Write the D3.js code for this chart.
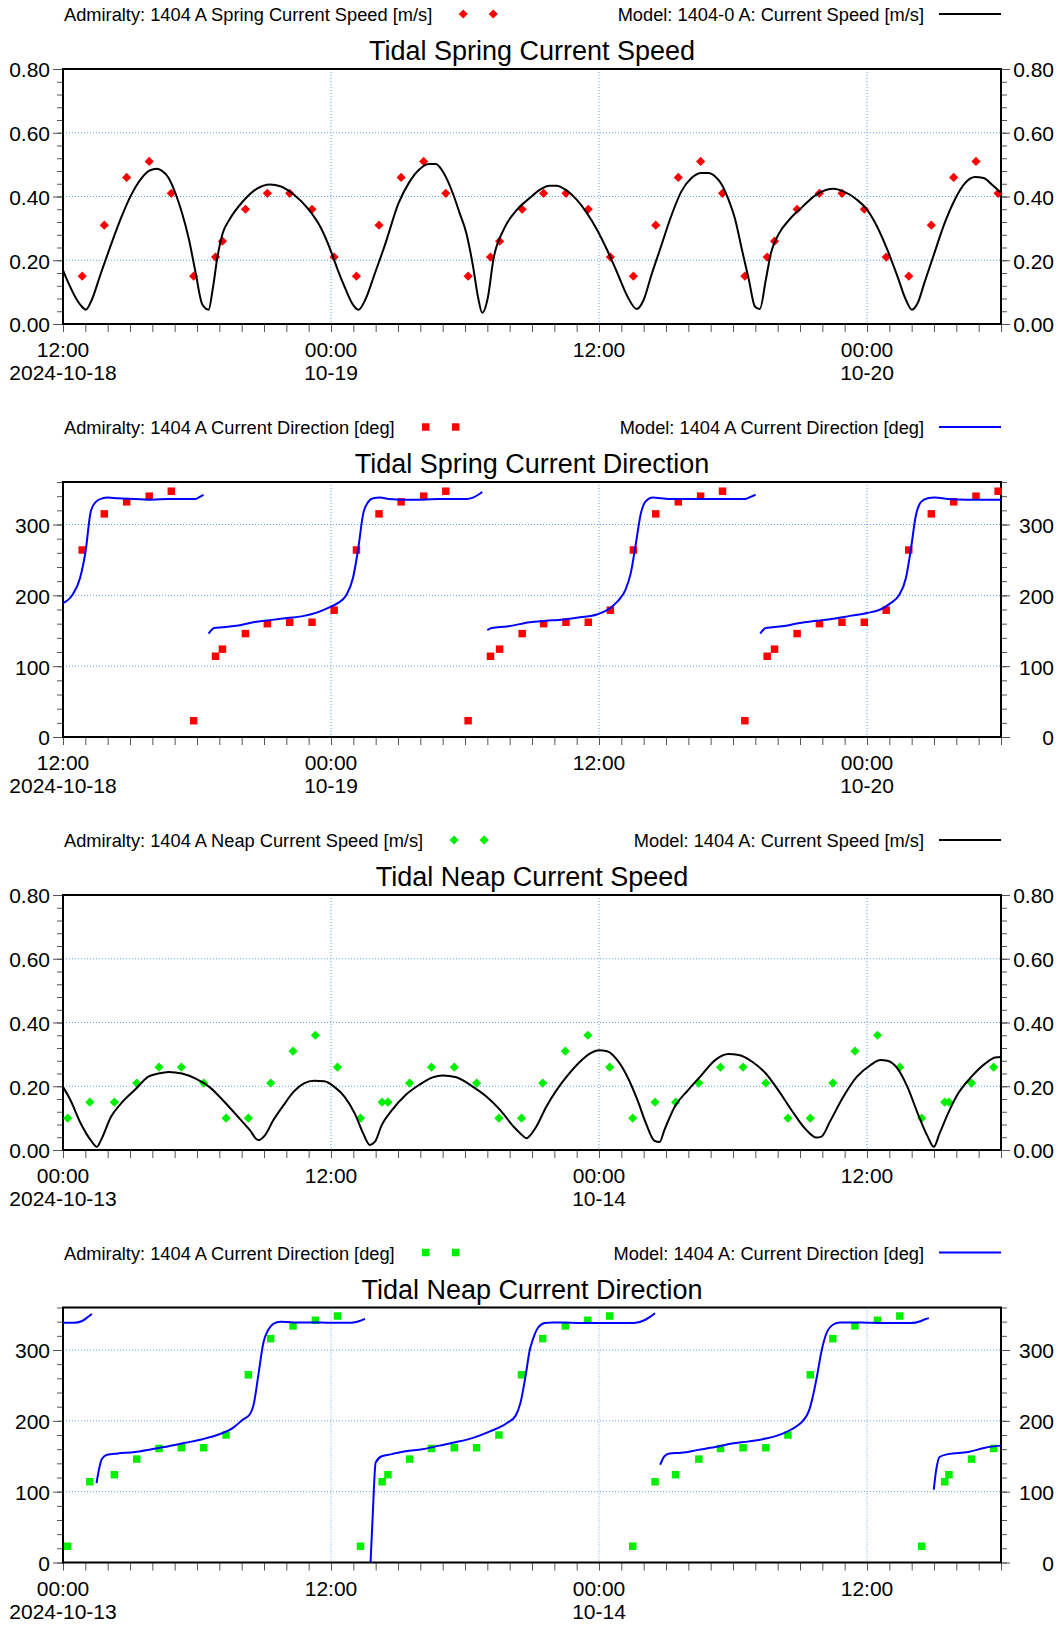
<!DOCTYPE html>
<html>
<head>
<meta charset="utf-8">
<script src="https://cdn.jsdelivr.net/npm/d3@7"></script>
<style>
  html, body { margin: 0; padding: 0; background: #fff; }
  svg { display: block; font-family: "Liberation Sans", Arial, sans-serif; }
</style>
</head>
<body>
<svg id="chart" width="1058" height="1625"></svg>
<script>
// ---- data (hours counted from the start of each panel) ----
const springStart = "2024-10-18T12:00:00Z";
const neapStart = "2024-10-13T00:00:00Z";
const spanHours = 42;

const speedTicks = [0, 0.2, 0.4, 0.6, 0.8];
const dirTicks = [0, 100, 200, 300];

const springObsHours = [0.86, 1.85, 2.85, 3.86, 4.85, 5.85, 6.83, 7.14, 8.17, 9.15, 10.15, 11.15, 12.14,
  13.14, 14.15, 15.14, 16.15, 17.14, 18.14, 19.14, 19.55, 20.56, 21.52, 22.52, 23.52, 24.51, 25.54,
  26.54, 27.55, 28.55, 29.53, 30.53, 31.53, 31.86, 32.87, 33.87, 34.88, 35.88, 36.86, 37.87, 38.88,
  39.88, 40.88, 41.87];
const springObsSpeed = [0.15, 0.31, 0.46, 0.51, 0.41, 0.15, 0.21, 0.26, 0.36, 0.41, 0.41, 0.36, 0.21,
  0.15, 0.31, 0.46, 0.51, 0.41, 0.15, 0.21, 0.26, 0.36, 0.41, 0.41, 0.36, 0.21, 0.15,
  0.31, 0.46, 0.51, 0.41, 0.15, 0.21, 0.26, 0.36, 0.41, 0.41, 0.36, 0.21, 0.15, 0.31,
  0.46, 0.51, 0.41];
const springObsDir = [264, 315, 332, 340, 347, 23, 114, 124, 146, 160, 162, 162, 179,
  264, 315, 332, 340, 347, 23, 114, 124, 146, 160, 162, 162, 179, 264,
  315, 332, 340, 347, 23, 114, 124, 146, 160, 162, 162, 179, 264, 315,
  332, 340, 347];

const springModelHours = [0, 0.79, 1.03, 1.24, 1.7, 2.15, 2.6, 3.06, 3.52, 3.89, 4.2, 4.42, 4.73, 5.03,
  5.33, 5.64, 5.94, 6.24, 6.52, 6.7, 6.92, 7.15, 7.45, 8.06, 8.67, 9.27, 9.73, 10.33, 10.94, 11.55,
  12, 12.3, 12.6, 12.98, 13.24, 13.5, 13.97, 14.42, 15.03, 15.48, 15.94, 16.39, 16.7, 17, 17.45,
  17.76, 18.06, 18.36, 18.59, 18.77, 19.02, 19.27, 19.73, 20.33, 20.9, 21.34, 21.79, 22.1, 22.55,
  23, 23.46, 23.91, 24.36, 24.82, 25.27, 25.69, 26, 26.33, 26.78, 27.23, 27.69, 28.14, 28.59, 28.9,
  29.2, 29.5, 29.8, 30.1, 30.4, 30.71, 30.98, 31.2, 31.47, 31.7, 32.07, 32.52, 33.13, 33.73, 34.19,
  34.49, 34.94, 35.55, 36, 36.45, 36.91, 37.36, 37.74, 38.01, 38.27, 38.57, 39.02, 39.48, 39.93,
  40.39, 40.84, 41.22, 41.6, 42];
const springModelSpeed = [0.168, 0.059, 0.045, 0.068, 0.16, 0.249, 0.333, 0.406, 0.458, 0.482, 0.487,
  0.481, 0.458, 0.411, 0.348, 0.265, 0.16, 0.061, 0.045, 0.108, 0.212, 0.285, 0.327, 0.385, 0.424,
  0.438, 0.432, 0.406, 0.364, 0.301, 0.228, 0.17, 0.118, 0.061, 0.045, 0.071, 0.16, 0.249, 0.38,
  0.442, 0.484, 0.502, 0.502, 0.479, 0.411, 0.348, 0.285, 0.181, 0.082, 0.035, 0.082, 0.202, 0.296,
  0.359, 0.395, 0.421, 0.434, 0.434, 0.419, 0.39, 0.348, 0.296, 0.233, 0.16, 0.087, 0.047, 0.076,
  0.15, 0.244, 0.338, 0.416, 0.458, 0.474, 0.474, 0.463, 0.437, 0.39, 0.327, 0.233, 0.139, 0.055,
  0.047, 0.139, 0.223, 0.285, 0.327, 0.369, 0.406, 0.421, 0.424, 0.416, 0.39, 0.359, 0.306, 0.233,
  0.15, 0.076, 0.045, 0.066, 0.129, 0.223, 0.317, 0.39, 0.442, 0.461, 0.458, 0.437, 0.411];

// null marks a break in the model direction line (wrap-around at 360)
const springModelDirHours = [0, 0.41, 0.76, 1.02, 1.24, 1.47, 1.77, 2, 2.45, 3.21, 3.97, 4.73, 5.48,
  5.94, 6.12, 6.29, null,
  6.52, 6.77, 7.15, 7.76, 8.52, 9.27, 10.03, 10.79, 11.39, 11.85, 12.3, 12.68, 12.98, 13.21, 13.44,
  13.67, 13.89, 14.2, 14.58, 15.33, 16.09, 16.85, 18.06, 18.36, 18.59, 18.77, null,
  19, 19.2, 19.88, 20.9, 21.64, 22.4, 23.15, 23.91, 24.36, 24.82, 25.19, 25.42, 25.65, 25.87, 26.1,
  26.4, 26.78, 27.08, 27.69, 28.44, 29.2, 29.95, 30.56, 30.79, 31.01, null,
  31.22, 31.47, 31.77, 32.37, 32.98, 33.73, 34.49, 35.24, 36, 36.6, 37.06, 37.43, 37.74, 37.96,
  38.19, 38.42, 38.72, 39.02, 39.63, 40.53, 42];
const springModelDir = [189, 200, 224, 264, 318, 332, 337, 338, 337, 336, 335, 336, 336,
  336, 339, 342, null,
  146, 154, 155, 157, 162, 165, 168, 171, 176, 182, 189, 200, 224, 264, 315,
  332, 337, 338, 336, 335, 335, 336, 336, 338, 342, 346, null,
  151, 154, 156, 162, 164, 166, 169, 173, 179, 191, 208, 231, 273, 315, 333,
  338, 337, 336, 336, 336, 336, 336, 336, 339, 342, null,
  146, 154, 155, 157, 161, 164, 167, 171, 175, 180, 189, 200, 224, 264,
  313, 332, 337, 338, 336, 335, 335];

const neapObsHours = [0.21, 1.2, 2.3, 3.3, 4.3, 5.3, 6.3, 7.3, 8.3, 9.3, 10.3, 11.3, 12.29, 13.32,
  14.29, 14.55, 15.52, 16.5, 17.52, 18.52, 19.52, 20.53, 21.48, 22.49, 23.5, 24.48, 25.51,
  26.51, 27.43, 28.47, 29.44, 30.45, 31.47, 32.46, 33.46, 34.47, 35.46, 36.47, 37.47, 38.45,
  39.48, 39.67, 40.68, 41.67];
const neapObsSpeed = [0.10, 0.15, 0.15, 0.21, 0.26, 0.26, 0.21, 0.10, 0.10, 0.21, 0.31, 0.36, 0.26, 0.10,
  0.15, 0.15, 0.21, 0.26, 0.26, 0.21, 0.10, 0.10, 0.21, 0.31, 0.36, 0.26, 0.10,
  0.15, 0.15, 0.21, 0.26, 0.26, 0.21, 0.10, 0.10, 0.21, 0.31, 0.36, 0.26, 0.10,
  0.15, 0.15, 0.21, 0.26];
const neapObsDir = [23, 114, 124, 146, 161, 162, 162, 180, 265, 316, 334, 342, 348, 23,
  114, 124, 146, 161, 162, 162, 180, 265, 316, 334, 342, 348, 23,
  114, 124, 146, 161, 162, 162, 180, 265, 316, 334, 342, 348, 23,
  114, 124, 146, 161];

const neapModelHours = [0, 0.33, 0.79, 1.24, 1.52, 1.7, 2.15, 2.6, 3.21, 3.82, 4.27, 4.73, 5.33, 5.94,
  6.55, 7.15, 7.76, 8.36, 8.74, 9.05, 9.42, 9.88, 10.33, 10.79, 11.24, 11.7, 12.15, 12.61, 13.06,
  13.44, 13.74, 13.97, 14.27, 14.73, 15.33, 15.94, 16.55, 17, 17.61, 18.36, 18.97, 19.58, 20.18,
  20.48, 20.76, 20.89, 21.19, 21.64, 22.1, 22.55, 23.15, 23.61, 24, 24.36, 24.82, 25.27, 25.72,
  26.1, 26.48, 26.71, 26.93, 27.39, 27.99, 28.59, 29.2, 29.8, 30.26, 30.86, 31.47, 32.07, 32.67,
  33.28, 33.73, 33.96, 34.34, 34.94, 35.55, 36.15, 36.6, 36.91, 37.36, 37.81, 38.27, 38.72, 38.99,
  39.25, 39.63, 40.08, 40.68, 41.29, 41.74, 42];
const neapModelSpeed = [0.198, 0.157, 0.084, 0.031, 0.01, 0.031, 0.104, 0.146, 0.188, 0.23, 0.24,
  0.245, 0.24, 0.224, 0.198, 0.157, 0.11, 0.063, 0.031, 0.047, 0.094, 0.141, 0.183, 0.209, 0.217,
  0.216, 0.198, 0.167, 0.115, 0.052, 0.016, 0.026, 0.078, 0.125, 0.172, 0.204, 0.228, 0.234, 0.228,
  0.198, 0.167, 0.125, 0.073, 0.052, 0.037, 0.044, 0.073, 0.136, 0.188, 0.23, 0.277, 0.303, 0.313,
  0.31, 0.282, 0.23, 0.157, 0.084, 0.029, 0.025, 0.063, 0.136, 0.188, 0.235, 0.282, 0.301, 0.298,
  0.277, 0.24, 0.183, 0.12, 0.063, 0.039, 0.042, 0.089, 0.167, 0.23, 0.266, 0.282, 0.28, 0.256,
  0.198, 0.115, 0.042, 0.01, 0.052, 0.115, 0.177, 0.23, 0.271, 0.29, 0.292];

const neapModelDirHours = [0, 0.48, 0.86, 1.09, 1.29, null,
  1.5, 1.74, 1.97, 2.45, 3.21, 3.97, 4.73, 5.48, 6.24, 7, 7.61, 8.06, 8.36, 8.55, 8.74, 8.97, 9.2,
  9.42, 9.73, 10.33, 11.09, 12, 12.9, 13.29, 13.52, null,
  13.77, 13.86, 14, 14.27, 14.73, 15.33, 16.09, 16.85, 17.61, 18.36, 19.12, 19.88, 20.26, 20.48,
  20.71, 20.9, 21.04, 21.26, 21.57, 21.94, 22.4, 23.15, 23.91, 24.66, 25.57, 26.03, 26.25, 26.51, null,
  26.74, 26.93, 27.16, 27.69, 28.44, 29.2, 29.95, 30.71, 31.47, 32.22, 32.83, 33.13, 33.4, 33.58,
  33.76, 33.96, 34.19, 34.49, 34.79, 35.39, 36, 36.75, 37.51, 37.96, 38.42, 38.57, 38.77, null,
  38.99, 39.1, 39.25, 39.63, 40.53, 41.29, 42];
const neapModelDir = [338.5, 338.5, 341, 346, 351, null,
  112, 146, 152, 154, 156, 160, 164, 169, 174, 181, 190, 202, 209, 225, 263, 310, 329,
  337, 340, 339, 339, 338.5, 338.5, 341, 344, null,
  0, 61, 141, 150, 153, 157, 160, 165, 170, 176, 185, 197, 207, 225,
  263, 300, 315, 331, 338, 339, 339, 338, 338, 338, 338, 342, 346, 352, null,
  138, 150, 154, 155, 159, 163, 168, 171, 175, 182, 192, 200, 214, 235,
  263, 298, 324, 336, 339, 339, 338.5, 338, 338, 338, 341, 343, 345, null,
  103, 131, 149, 153, 156, 162, 165];

// ---- layout ----
const plotLeft = 63, plotRight = 1001, plotH = 255;
const panelTops = [69, 482, 895, 1307.5];
const gridColor = "#5aa5f5";
const tickColor = "#555";

const panels = [
  { title: "Tidal Spring Current Speed", start: springStart,
    obsLabel: "Admiralty: 1404 A Spring Current Speed [m/s]", modelLabel: "Model: 1404-0 A: Current Speed [m/s]",
    obsX: springObsHours, obsY: springObsSpeed, modX: springModelHours, modY: springModelSpeed,
    domain: [0, 0.8], major: speedTicks, minorStep: 0.04, fmt: d3.format(".2f"),
    marker: "diamond", obsColor: "#ff0000", lineColor: "#000000" },
  { title: "Tidal Spring Current Direction", start: springStart,
    obsLabel: "Admiralty: 1404 A Current Direction [deg]", modelLabel: "Model: 1404 A Current Direction [deg]",
    obsX: springObsHours, obsY: springObsDir, modX: springModelDirHours, modY: springModelDir,
    domain: [0, 360], major: dirTicks, minorStep: 20, fmt: d3.format("d"),
    marker: "square", obsColor: "#ff0000", lineColor: "#0000ff" },
  { title: "Tidal Neap Current Speed", start: neapStart,
    obsLabel: "Admiralty: 1404 A Neap Current Speed [m/s]", modelLabel: "Model: 1404 A: Current Speed [m/s]",
    obsX: neapObsHours, obsY: neapObsSpeed, modX: neapModelHours, modY: neapModelSpeed,
    domain: [0, 0.8], major: speedTicks, minorStep: 0.04, fmt: d3.format(".2f"),
    marker: "diamond", obsColor: "#00f000", lineColor: "#000000" },
  { title: "Tidal Neap Current Direction", start: neapStart,
    obsLabel: "Admiralty: 1404 A Current Direction [deg]", modelLabel: "Model: 1404 A: Current Direction [deg]",
    obsX: neapObsHours, obsY: neapObsDir, modX: neapModelDirHours, modY: neapModelDir,
    domain: [0, 360], major: dirTicks, minorStep: 20, fmt: d3.format("d"),
    marker: "square", obsColor: "#00f000", lineColor: "#0000ff" }
];

const svg = d3.select("#chart");

function drawMarker(g, kind, cx, cy, color) {
  if (kind === "diamond") {
    g.append("path")
      .attr("d", d3.symbol(d3.symbolSquare, 42)())
      .attr("transform", `translate(${cx},${cy}) rotate(45)`)
      .attr("fill", color);
  } else {
    g.append("path")
      .attr("d", d3.symbol(d3.symbolSquare, 56)())
      .attr("transform", `translate(${cx},${cy})`)
      .attr("fill", color);
  }
}

function styleAxis(sel) {
  sel.attr("font-family", null).attr("font-size", 21);
  sel.select(".domain").remove();
  sel.selectAll(".tick line").attr("stroke", tickColor);
  sel.selectAll(".tick text").attr("fill", "#000");
}

function drawPanel(p, top) {
  const bottom = top + plotH;
  const t0 = new Date(p.start);
  const toDate = h => new Date(t0.getTime() + h * 3600e3);
  const x = d3.scaleUtc().domain([t0, toDate(spanHours)]).range([plotLeft, plotRight]);
  const y = d3.scaleLinear().domain(p.domain).range([bottom, top]);
  const minor = d3.range(p.domain[0], p.domain[1] + 1e-9, p.minorStep);
  const g = svg.append("g");

  // legend row
  const obsText = g.append("text")
    .attr("x", 64).attr("y", top - 48)
    .attr("font-size", 18.25)
    .text(p.obsLabel);
  const textEnd = 64 + obsText.node().getComputedTextLength();
  [31, 61].forEach(off => drawMarker(g, p.marker, textEnd + off, top - 55, p.obsColor));
  g.append("text")
    .attr("x", 924).attr("y", top - 48)
    .attr("text-anchor", "end")
    .attr("font-size", 18.25)
    .text(p.modelLabel);
  g.append("line")
    .attr("x1", 939).attr("x2", plotRight)
    .attr("y1", top - 55).attr("y2", top - 55)
    .attr("stroke", p.lineColor).attr("stroke-width", 2);

  // title
  g.append("text")
    .attr("x", (plotLeft + plotRight) / 2).attr("y", top - 9)
    .attr("text-anchor", "middle")
    .attr("font-size", 27)
    .text(p.title);

  // grid
  const dayTicks = x.ticks(d3.utcHour.every(12));
  g.append("g").selectAll("line")
    .data(p.major.filter(v => v > p.domain[0] && v < p.domain[1]))
    .join("line")
    .attr("x1", plotLeft).attr("x2", plotRight)
    .attr("y1", d => y(d)).attr("y2", d => y(d))
    .attr("stroke", gridColor).attr("stroke-dasharray", "1,2");
  g.append("g").selectAll("line")
    .data(dayTicks.filter(d => x(d) > plotLeft + 1 && x(d) < plotRight - 1))
    .join("line")
    .attr("x1", d => x(d)).attr("x2", d => x(d))
    .attr("y1", top).attr("y2", bottom)
    .attr("stroke", gridColor).attr("stroke-dasharray", "1,2");

  // left axis
  g.append("g").attr("transform", `translate(${plotLeft},0)`)
    .call(d3.axisLeft(y).tickValues(minor).tickSize(6).tickFormat(""))
    .call(styleAxis);
  g.append("g").attr("transform", `translate(${plotLeft},0)`)
    .call(d3.axisLeft(y).tickValues(p.major).tickSize(10).tickPadding(3).tickFormat(p.fmt))
    .call(styleAxis)
    .selectAll(".tick text").attr("dy", "0.38em");

  // right axis (labels right aligned)
  g.append("g").attr("transform", `translate(${plotRight},0)`)
    .call(d3.axisRight(y).tickValues(minor).tickSize(6).tickFormat(""))
    .call(styleAxis);
  g.append("g").attr("transform", `translate(${plotRight},0)`)
    .call(d3.axisRight(y).tickValues(p.major).tickSize(9).tickFormat(p.fmt))
    .call(styleAxis)
    .selectAll(".tick text")
    .attr("x", 1054 - plotRight).attr("text-anchor", "end").attr("dy", "0.38em");

  // bottom axis: hourly ticks
  g.append("g").attr("transform", `translate(0,${bottom})`)
    .call(d3.axisBottom(x).ticks(d3.utcHour.every(1)).tickSize(8).tickFormat(""))
    .call(styleAxis);

  const fmtTime = d3.utcFormat("%H:%M");
  const fmtFull = d3.utcFormat("%Y-%m-%d");
  const fmtDay = d3.utcFormat("%m-%d");
  const labels = g.append("g").attr("font-size", 21).attr("text-anchor", "middle");
  dayTicks.forEach((d, i) => {
    labels.append("text").attr("x", x(d)).attr("y", bottom + 33).text(fmtTime(d));
    const second = i === 0 ? fmtFull(d) : (d.getUTCHours() === 0 ? fmtDay(d) : "");
    if (second) labels.append("text").attr("x", x(d)).attr("y", bottom + 56).text(second);
  });

  // frame
  g.append("rect")
    .attr("x", plotLeft).attr("y", top)
    .attr("width", plotRight - plotLeft).attr("height", plotH)
    .attr("fill", "none").attr("stroke", "#000").attr("stroke-width", 2);

  // observations
  const obsG = g.append("g");
  p.obsX.forEach((h, i) => drawMarker(obsG, p.marker, x(toDate(h)), y(p.obsY[i]), p.obsColor));

  // model line
  const pts = p.modX.map((h, i) => [h, p.modY[i]]);
  const line = d3.line()
    .defined(d => d[0] != null && d[1] != null)
    .x(d => x(toDate(d[0])))
    .y(d => y(d[1]))
    .curve(d3.curveMonotoneX);
  g.append("path")
    .datum(pts)
    .attr("d", line)
    .attr("fill", "none")
    .attr("stroke", p.lineColor)
    .attr("stroke-width", 2)
    .attr("stroke-linejoin", "round");
}

panels.forEach((p, i) => drawPanel(p, panelTops[i]));
</script>
</body>
</html>
